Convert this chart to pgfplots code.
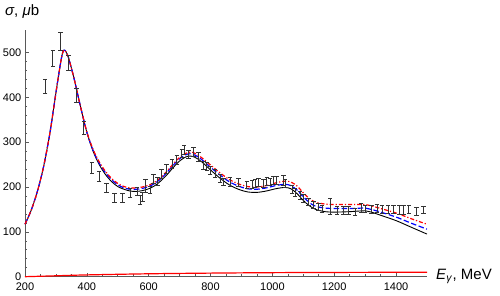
\documentclass[border=0pt]{standalone}
\usepackage{pgfplots}
\pgfplotsset{compat=1.18}
\usepackage{fontspec}
\setmainfont{Liberation Sans}
\begin{document}
\begin{tikzpicture}[x=1pt,y=1pt,font=\fontsize{11pt}{13pt}\selectfont]
\begin{axis}[
  at={(0,0)}, anchor=south west,
  scale only axis, width=402pt, height=246.7pt,
  xmin=200, xmax=1500, ymin=0, ymax=550,
  axis lines=left, axis line style={-, black!65, line width=0.7pt},
  xtick={200,400,...,1400}, ytick={0,100,...,500},
  minor x tick num=3, minor y tick num=4,
  tick align=inside, major tick length=4pt, minor tick length=2.5pt,
  every tick/.style={black!65, line width=0.6pt},
  /pgf/number format/assume math mode=true,
  /pgf/number format/set thousands separator={},
  tick label style={font=\fontsize{11pt}{13pt}\selectfont},
  xticklabel style={inner sep=0pt, yshift=-5.5pt},
  yticklabel style={inner sep=0pt, xshift=-3.5pt},
  clip=false,
]
% background model line near zero
\addplot[red, line width=1.2pt, smooth] coordinates {
(200,0) (300,2) (400,4) (600,6.5) (800,8) (1000,9) (1200,9.5) (1500,10)};
% black solid
\addplot[black, line width=0.9pt, smooth] coordinates {
(200,117) (220,148) (240,190) (260,245) (280,318) (300,410) (310,455) (320,495) (326,505) (332,502) (340,490) (350,465) (360,438) (380,378) (400,322) (420,280) (440,250) (460,228) (480,212) (500,201) (520,195) (540,191) (560,190) (580,192) (600,196) (620,203) (640,214) (660,228) (680,244) (700,258) (720,267) (735,269) (750,266) (770,257) (800,238) (830,220) (860,205) (890,195) (920,189) (950,188) (980,191) (1010,196) (1040,199) (1060,196) (1080,185) (1100,170) (1120,158) (1140,150) (1170,145) (1200,144) (1250,145) (1300,147) (1320,144) (1350,137) (1400,125) (1450,110) (1500,95)};
% blue dashed
\addplot[blue, line width=1.2pt, dash pattern=on 5.5pt off 2.5pt, smooth] coordinates {
(200,117) (220,148) (240,190) (260,245) (280,318) (300,410) (310,455) (320,495) (326,505) (332,502) (340,490) (350,465) (360,438) (380,378) (400,322) (420,282) (440,253) (460,232) (480,216) (500,205) (520,198) (540,195) (560,195) (580,197) (600,201) (620,208) (640,219) (660,233) (680,249) (700,263) (720,272) (735,274) (750,271) (770,262) (800,244) (830,227) (860,212) (890,202) (920,196) (950,195) (980,198) (1010,203) (1040,206) (1060,203) (1080,193) (1100,178) (1120,165) (1140,157) (1170,153) (1200,152) (1250,152) (1300,153) (1320,150) (1350,144) (1400,133) (1450,119) (1500,106)};
% red dash-dot
\addplot[red, line width=1.2pt, dash pattern=on 4pt off 2pt on 1.2pt off 2pt, smooth] coordinates {
(200,117) (220,148) (240,190) (260,245) (280,318) (300,410) (310,455) (320,495) (326,505) (332,502) (340,490) (350,465) (360,438) (380,378) (400,323) (420,284) (440,256) (460,235) (480,219) (500,208) (520,201) (540,198) (560,198) (580,200) (600,204) (620,211) (640,222) (660,236) (680,252) (700,266) (720,275) (735,278) (750,275) (770,266) (800,249) (830,232) (860,217) (890,207) (920,201) (950,200) (980,203) (1010,209) (1040,213) (1060,211) (1080,202) (1100,187) (1120,174) (1140,166) (1170,162) (1200,161) (1250,161) (1300,161) (1320,158) (1350,152) (1400,142) (1450,129) (1500,117)};
% data
\addplot[only marks, mark=text, text mark={},
  error bars/.cd, y dir=both, y explicit,
  error bar style={draw=black!80, solid, line width=0.7pt},
  error mark=|,
  error mark options={draw=black!80, solid, mark size=2.2pt, line width=0.7pt}]
 table[x=x, y=y, y error=e] {
x y e
265 424 16
290 486 18
315 525 20
341 476 17
366 405 16
390 332 14
416 243 13
440 223 11
464 199 10
489 176 10
515 176 10
540 187 9
563 191 9
572 171 10
580 178 9
590 202 15
604 193 8
615 219 10
628 212 9
642 230 10
658 241 10
675 252 10
691 261 10
707 275 10
715 282 10
729 272 9
745 278 10
761 267 10
777 249 9
788 247 9
799 238 9
815 230 9
831 219 9
842 212 8
863 212 10
890 210 9
917 204 8
934 206 8
944 208 8
955 210 9
971 208 8
982 212 9
993 212 8
1003 215 9
1014 215 9
1036 215 12
1041 208 9
1063 195 9
1074 189 9
1090 182 9
1101 175 9
1117 167 8
1133 160 8
1149 156 8
1160 152 8
1187 156 18
1209 148 8
1230 148 8
1246 148 8
1268 145 8
1287 154 10
1300 152 8
1320 151 9
1338 152 9
1354 151 9
1374 150 9
1392 150 9
1411 149 9
1424 149 9
1441 151 9
1466 145 9
1489 149 8
};
\end{axis}
\node[anchor=west, inner sep=0pt, font=\fontsize{15pt}{17pt}\selectfont] at (411pt,0pt) {\textit{E}\textsubscript{\textit{γ}}, MeV};
\node[anchor=north west, inner sep=0pt, font=\fontsize{15pt}{17pt}\selectfont] at (-20pt,272pt) {\textit{σ}, \textit{μ}b};
\pgfresetboundingbox
\path[use as bounding box] (-25pt,-19.3pt) rectangle (475pt,276.7pt);
\end{tikzpicture}
\end{document}
